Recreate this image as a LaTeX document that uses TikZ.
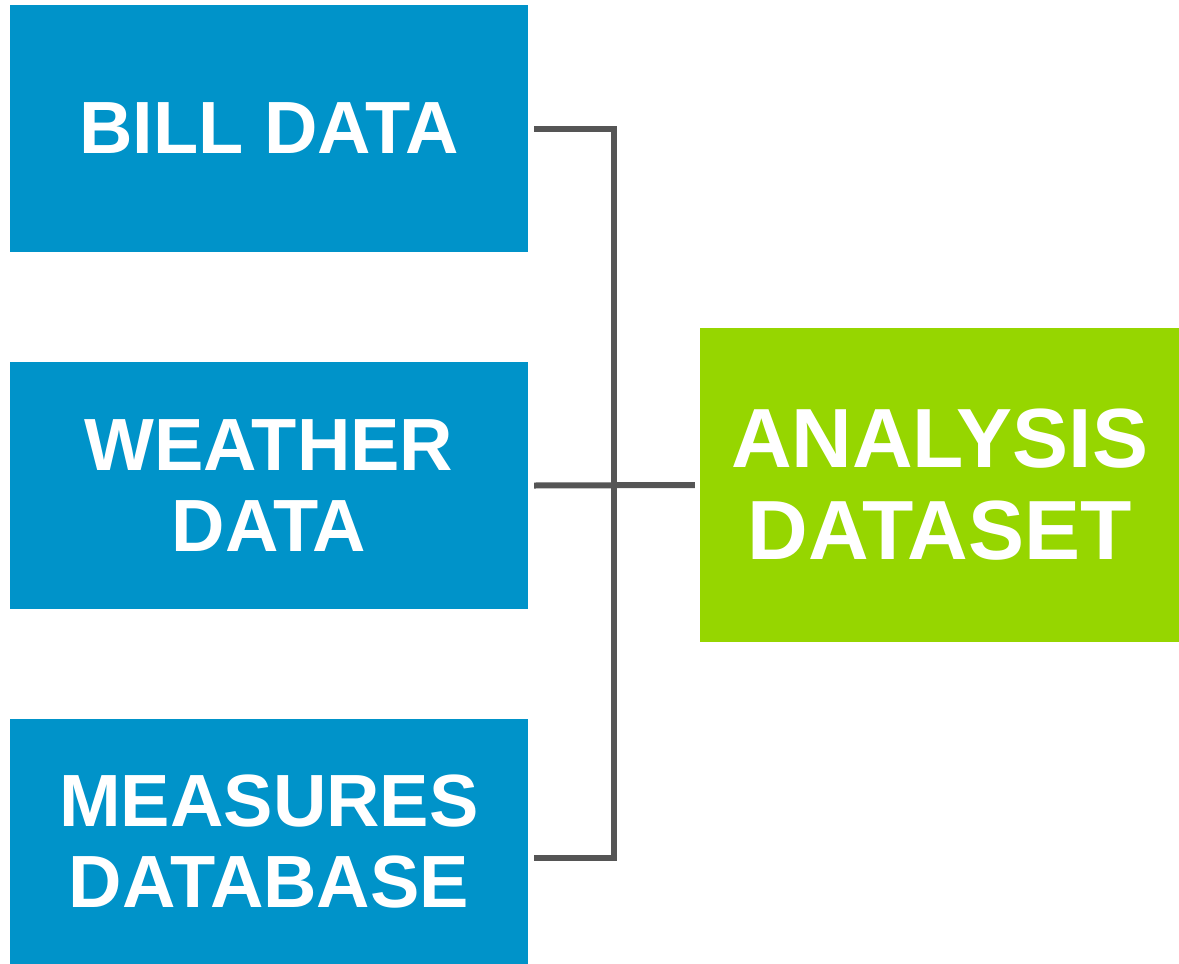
\documentclass[tikz,border=0pt]{standalone}
\usepackage{fontspec}
\setmainfont{Liberation Sans}
\usetikzlibrary{positioning}

\definecolor{srcblue}{HTML}{0093C9}
\definecolor{outgreen}{HTML}{96D600}
\definecolor{railgrey}{HTML}{555555}

\begin{document}
\begin{tikzpicture}[
x=1pt,y=-1pt,
box/.style={%
    rectangle,
    inner sep=0pt,
    minimum width=518pt,
    minimum height=247pt,
    fill=srcblue,
    text=white,
    align=center,
    font=\fontsize{74}{81}\selectfont\bfseries,
},
result/.style={%
    box,
    minimum width=479pt,
    minimum height=314pt,
    fill=outgreen,
    font=\fontsize{84}{92}\selectfont\bfseries,
},
link/.style={%
    draw=railgrey,
    line width=6pt,
},
]
\useasboundingbox (0,0) rectangle (1179,964);
% Nodes
\node[box]      at (269, 128.5)  (bill)      {BILL DATA};
\node[box]      at (269, 485.5)  (weather)   {WEATHER\\DATA};
\node[box,minimum height=245pt]
                at (269, 841.5)  (measures)  {MEASURES\\DATABASE};
\node[result]   at (939.5, 485)  (analysis)  {ANALYSIS\\DATASET};

\coordinate (railtop) at (614, 128.5);
\coordinate (railbot) at (614, 858);

% Lines
\draw[link] ([xshift=6pt]bill.east) -- (railtop) -- (railbot)
    -- ([xshift=6pt]measures.east |- railbot);
\draw[link] ([xshift=6pt]weather.east) -- ([xshift=-5pt]analysis.west);
\end{tikzpicture}
\end{document}
